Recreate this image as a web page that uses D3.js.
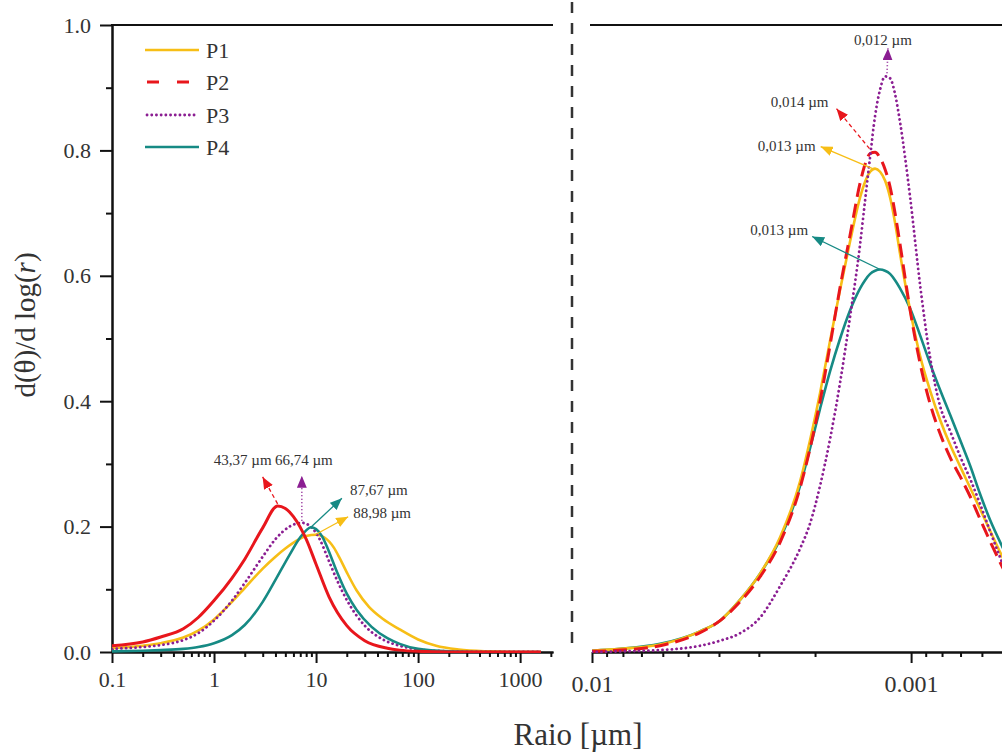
<!DOCTYPE html>
<html><head><meta charset="utf-8">
<script src="https://cdn.jsdelivr.net/npm/d3@7"></script>
<style>
body{margin:0;background:#fff}
svg{display:block}
text{font-family:"Liberation Serif","Times New Roman",serif;fill:#333}
</style>
</head><body>
<svg id="c" width="1002" height="756"></svg>
<script>
// ---------------- DATA ----------------
const seriesNames = ["P1","P2","P3","P4"];
const seriesColors = ["#F7BE16","#E8161C","#8B1E92","#168A84"];

// Left panel (Raio in µm)
const leftP1X = [0.1,0.2,0.3,0.5,0.7,1,1.5,2,3,4,5,6.5,8,10,12,15,17,20,25,33,45,66,100,150,250,500,1000,1600];
const leftP1Y = [0.006,0.010,0.014,0.023,0.034,0.052,0.080,0.102,0.133,0.152,0.165,0.178,0.185,0.187,0.183,0.166,0.150,0.127,0.098,0.072,0.053,0.036,0.020,0.010,0.004,0.001,0,0];
const leftP2X = [0.1,0.2,0.3,0.5,0.7,1,1.5,2,3,4.2,5,6,8,10,13.4,20,30,50,66,100,200,1600];
const leftP2Y = [0.010,0.016,0.024,0.037,0.055,0.082,0.118,0.148,0.198,0.233,0.229,0.216,0.180,0.140,0.088,0.042,0.018,0.006,0.003,0.001,0,0];
const leftP3X = [0.1,0.2,0.3,0.5,0.7,1,1.5,2,3,4,5.5,7.25,9,11,13,16,20,30,45,66,100,200,400,1600];
const leftP3Y = [0.005,0.008,0.011,0.019,0.030,0.050,0.082,0.110,0.152,0.180,0.200,0.206,0.199,0.178,0.150,0.115,0.083,0.042,0.020,0.010,0.004,0.001,0,0];
const leftP4X = [0.1,0.2,0.3,0.5,0.7,1,1.5,2,3,4,5.5,7,8,8.9,10,11.5,13,16,20,25,35,50,66,100,200,400,1600];
const leftP4Y = [0.001,0.002,0.003,0.005,0.008,0.014,0.027,0.043,0.080,0.115,0.155,0.183,0.194,0.199,0.196,0.184,0.165,0.128,0.093,0.067,0.040,0.022,0.013,0.005,0.001,0,0];

// Right panel (Raio in µm, decreasing to the right)
const rightX = [0.01,0.008169,0.006119,0.004585,0.003969,0.003436,0.002974,0.002574,0.002228,0.002073,0.001929,0.001794,0.001669,0.001553,0.001445,0.001394,0.001344,0.001297,0.001251,0.001207,0.001164,0.001123,0.001083,0.001007,0.000937,0.000872,0.000811,0.000754,0.000702,0.000653,0.000608,0.000565,0.000518,0.000489];
const rightP1Y = [0.002,0.005,0.012,0.033,0.050,0.083,0.125,0.183,0.272,0.338,0.413,0.497,0.578,0.655,0.725,0.750,0.766,0.771,0.766,0.752,0.725,0.685,0.635,0.545,0.472,0.417,0.370,0.330,0.296,0.262,0.228,0.193,0.152,0.126];
const rightP2Y = [0.001,0.003,0.010,0.031,0.050,0.080,0.120,0.175,0.262,0.325,0.400,0.490,0.582,0.665,0.748,0.778,0.795,0.797,0.788,0.770,0.742,0.700,0.650,0.545,0.460,0.396,0.348,0.310,0.280,0.248,0.212,0.176,0.136,0.110];
const rightP3Y = [0.000,0.001,0.003,0.010,0.018,0.030,0.055,0.105,0.165,0.205,0.265,0.340,0.430,0.535,0.650,0.720,0.790,0.855,0.897,0.918,0.915,0.890,0.845,0.725,0.585,0.470,0.392,0.352,0.312,0.276,0.236,0.192,0.142,0.110];
const rightP4Y = [0.002,0.005,0.013,0.033,0.050,0.083,0.125,0.180,0.265,0.325,0.388,0.448,0.500,0.545,0.580,0.593,0.603,0.608,0.610,0.608,0.603,0.593,0.580,0.548,0.505,0.460,0.418,0.378,0.338,0.297,0.252,0.210,0.168,0.142];

// Peak annotations
const leftPeakLabels = ["88,98 µm","43,37 µm","66,74 µm","87,67 µm"];
const leftPeakX = [9.8,4.2,7.25,8.9];
const leftPeakY = [0.187,0.233,0.206,0.199];
const rightPeakLabels = ["0,013 µm","0,014 µm","0,012 µm","0,013 µm"];
const rightPeakX = [0.00132,0.00135,0.00119,0.00125];
const rightPeakY = [0.771,0.798,0.920,0.610];

// Axis ticks
const yMajor = [0,0.2,0.4,0.6,0.8,1.0];
const yMinor = [0.1,0.3,0.5,0.7,0.9];
const yLabels = ["0.0","0.2","0.4","0.6","0.8","1.0"];
const leftXMajor = [0.1,1,10,100,1000];
const leftXLabels = ["0.1","1","10","100","1000"];
const rightXMajor = [0.01,0.001];
const rightXLabels = ["0.01","0.001"];

// ---------------- LAYOUT ----------------
const svg = d3.select("#c");
const Y0 = 652, Y1 = 25;
const y = d3.scaleLinear([0,1],[Y0,Y1]);
const xL = d3.scaleLog([0.1,2100],[112,553]);
const xR = d3.scaleLog([0.01,0.000519],[592,1002]);

function minorLog(lo,hi){const out=[];for(let e=Math.floor(Math.log10(lo))-1;e<=Math.ceil(Math.log10(hi));e++){for(let m=2;m<=9;m++){const v=m*Math.pow(10,e);if(v>=lo*0.999&&v<=hi*1.001)out.push(v);}}return out;}

const defs = svg.append("defs");
defs.append("clipPath").attr("id","clipL").append("rect").attr("x",112).attr("y",0).attr("width",441).attr("height",Y0+1);
defs.append("clipPath").attr("id","clipR").append("rect").attr("x",592).attr("y",0).attr("width",420).attr("height",Y0+1);
seriesColors.forEach((c,i)=>{
  defs.append("marker").attr("id","ah"+i).attr("markerUnits","userSpaceOnUse")
    .attr("viewBox","0 0 12 10").attr("markerWidth",12).attr("markerHeight",10)
    .attr("refX",12).attr("refY",5).attr("orient","auto")
    .append("path").attr("d","M0,0L12,5L0,10Z").attr("fill",c);
});

function styleAxis(g,fs){
  g.select(".domain").attr("stroke","#111").attr("stroke-width",2);
  g.selectAll(".tick line").attr("stroke","#111").attr("stroke-width",2);
  g.selectAll(".tick text").attr("fill","#333").style("font-size",fs+"px").style("font-family",'"Liberation Serif","Times New Roman",serif');
}

// Top border lines
svg.append("line").attr("x1",111).attr("x2",553).attr("y1",Y1).attr("y2",Y1).attr("stroke","#111").attr("stroke-width",2);
svg.append("line").attr("x1",590).attr("x2",1002).attr("y1",Y1).attr("y2",Y1).attr("stroke","#111").attr("stroke-width",2);

// Divider
svg.append("line").attr("x1",572).attr("x2",572).attr("y1",2).attr("y2",Y0).attr("stroke","#333").attr("stroke-width",2.5).attr("stroke-dasharray","11,10");

// Y axis
const gyMin = svg.append("g").attr("transform","translate(112,0)")
  .call(d3.axisLeft(y).tickValues(yMinor).tickSize(6).tickSizeOuter(0).tickFormat(""));
styleAxis(gyMin,22);
const gy = svg.append("g").attr("transform","translate(112,0)")
  .call(d3.axisLeft(y).tickValues(yMajor).tickSize(12).tickSizeOuter(0).tickPadding(9).tickFormat((d,i)=>yLabels[i]));
styleAxis(gy,22);

// Left X axis
const gxLMin = svg.append("g").attr("transform",`translate(0,${Y0})`)
  .call(d3.axisBottom(xL).tickValues(minorLog(0.1,2100)).tickSize(5).tickSizeOuter(0).tickFormat(""));
styleAxis(gxLMin,22);
const gxL = svg.append("g").attr("transform",`translate(0,${Y0})`)
  .call(d3.axisBottom(xL).tickValues(leftXMajor).tickSize(11).tickSizeOuter(0).tickPadding(8).tickFormat((d,i)=>leftXLabels[i]));
styleAxis(gxL,22);

// Right X axis
const gxRMin = svg.append("g").attr("transform",`translate(0,${Y0})`)
  .call(d3.axisBottom(xR).tickValues(minorLog(0.000519,0.01)).tickSize(5).tickSizeOuter(0).tickFormat(""));
styleAxis(gxRMin,24);
const gxR = svg.append("g").attr("transform",`translate(0,${Y0})`)
  .call(d3.axisBottom(xR).tickValues(rightXMajor).tickSize(11).tickSizeOuter(0).tickPadding(12).tickFormat((d,i)=>rightXLabels[i]));
styleAxis(gxR,24);

// Curves
const leftData = [[leftP1X,leftP1Y],[leftP2X,leftP2Y],[leftP3X,leftP3Y],[leftP4X,leftP4Y]];
const rightData = [[rightX,rightP1Y],[rightX,rightP2Y],[rightX,rightP3Y],[rightX,rightP4Y]];
const leftDash = [null,null,"0.1,4.6",null];
const rightDash = [null,"14,7","0.1,4.6",null];
const widths = [2.6,3,2.8,2.6];

const lineL = d3.line().x(d=>xL(d[0])).y(d=>y(d[1])).curve(d3.curveMonotoneX);
const lineR = d3.line().x(d=>xR(d[0])).y(d=>y(d[1])).curve(d3.curveMonotoneX);

const gL = svg.append("g").attr("clip-path","url(#clipL)");
const gR = svg.append("g").attr("clip-path","url(#clipR)");
[0,2,3,1].forEach(i=>{
  const [xs,ys]=leftData[i];
  gL.append("path").datum(xs.map((v,k)=>[v,ys[k]])).attr("d",lineL)
    .attr("fill","none").attr("stroke",seriesColors[i]).attr("stroke-width",widths[i])
    .attr("stroke-linecap",i===2?"round":"butt")
    .attr("stroke-dasharray",leftDash[i]);
});
[3,0,1,2].forEach(i=>{
  const [xs,ys]=rightData[i];
  gR.append("path").datum(xs.map((v,k)=>[v,ys[k]])).attr("d",lineR)
    .attr("fill","none").attr("stroke",seriesColors[i]).attr("stroke-width",widths[i])
    .attr("stroke-linecap",i===2?"round":"butt")
    .attr("stroke-dasharray",rightDash[i]);
});

// Annotations
const arrowDash = [null,"4,3","1,2.5",null];
const leftOff = [{dx:33,dy:-18,sy:0,lx:5,ly:1,a:"start"},{dx:-15,dy:-27,sy:-2,lx:9,ly:-12,a:"end"},{dx:0,dy:-45,sy:-2,lx:2,ly:-11,a:"middle"},{dx:31,dy:-29,sy:0,lx:8,ly:-3,a:"start"}];
const rightOff = [{dx:-52,dy:-22,sy:0,lx:-5,ly:4,a:"end"},{dx:-33,dy:-40,sy:-3,lx:-8,ly:-1.5,a:"end"},{dx:1,dy:-25,sy:-2,lx:-5,ly:-3,a:"middle"},{dx:-68,dy:-33,sy:0,lx:-4,ly:-2,a:"end"}];
function annotate(xs,ys,labels,off,xsc){
  labels.forEach((lab,i)=>{
    const px=xsc(xs[i]), py=y(ys[i])+off[i].sy;
    const tx=px+off[i].dx, ty=py+off[i].dy;
    svg.append("line").attr("x1",px).attr("y1",py).attr("x2",tx).attr("y2",ty)
      .attr("stroke",seriesColors[i]).attr("stroke-width",i===2?1.6:1.3)
      .attr("stroke-dasharray",arrowDash[i]).attr("marker-end",`url(#ah${i})`);
    svg.append("text").attr("x",tx+off[i].lx).attr("y",ty+off[i].ly)
      .attr("text-anchor",off[i].a).style("font-size","15px").attr("fill","#3a3a3a").text(lab);
  });
}
annotate(leftPeakX,leftPeakY,leftPeakLabels,leftOff,xL);
annotate(rightPeakX,rightPeakY,rightPeakLabels,rightOff,xR);

// Legend
const legY = [50,82,115,147];
seriesNames.forEach((n,i)=>{
  const l = svg.append("line").attr("x1",145).attr("x2",199).attr("y1",legY[i]).attr("y2",legY[i])
    .attr("stroke",seriesColors[i]).attr("stroke-width",widths[i]);
  if(i===1) l.attr("x1",147).attr("x2",193).attr("stroke-dasharray","12,18");
  if(i===2) l.attr("stroke-dasharray","0.1,4.6").attr("stroke-linecap","round").attr("x1",147).attr("x2",195);
  svg.append("text").attr("x",206).attr("y",legY[i]).attr("dy","0.35em").style("font-size","22px").text(n);
});

// Axis titles
svg.append("text").attr("x",578).attr("y",745).attr("text-anchor","middle").style("font-size","31px").text("Raio [µm]");
const yt = svg.append("text").attr("transform","translate(35,325) rotate(-90)").attr("text-anchor","middle").style("font-size","29px");
yt.append("tspan").text("d(θ)/d log(");
yt.append("tspan").style("font-style","italic").text("r");
yt.append("tspan").text(")");
</script>
</body></html>
